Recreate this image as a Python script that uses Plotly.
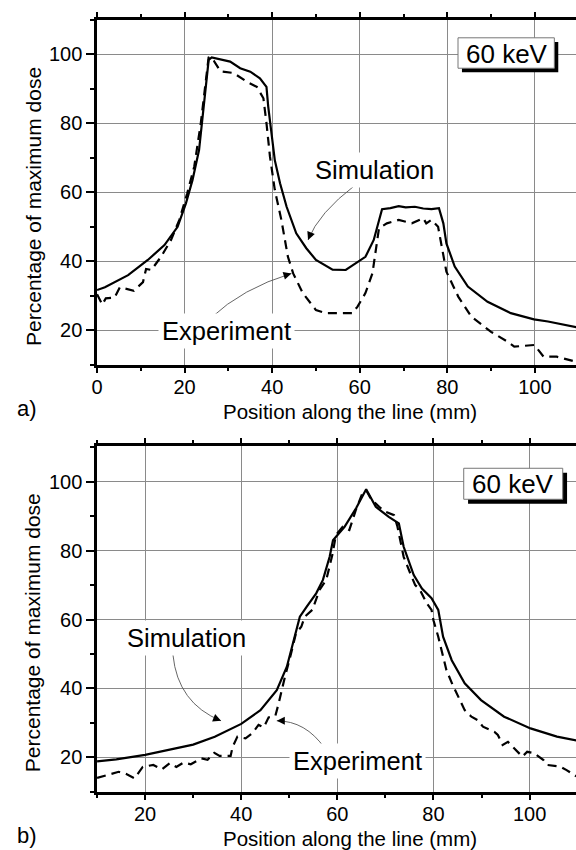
import plotly.graph_objects as go

# ---------------- data ----------------
# (a) top panel
a_sim_x = [0, 1.8, 7.1, 11.6, 15.4, 18.4, 20.3, 21.8, 23.3, 24.4, 25.5, 26.2, 27.8, 30.4, 32.7,
           35, 37.2, 38.7, 39.1, 39.9, 40.6, 41.8, 43.3, 45.5, 47.8, 50, 53.8, 56.8, 59.8, 61.3,
           63.2, 65.1, 67, 68.9, 70.5, 72.6, 74.5, 76.4, 78.1, 79.1, 79.8, 81.7, 84.7, 89.2, 94.5,
           99.8, 103, 106.6, 110]
a_sim_y = [31.7, 32.5, 36, 40.4, 44.7, 50, 56.8, 63.5, 72.2, 84.8, 98.3, 99, 98.6, 97.8, 95.9,
           94.9, 93, 90.5, 84.8, 77, 69.3, 62.6, 55.8, 48.1, 43.8, 40.4, 37.6, 37.5, 39.9, 41.3,
           46.2, 55.1, 55.4, 56, 55.6, 55.8, 55.3, 55.1, 55.4, 51, 45.2, 38.5, 32.7, 28.3, 25,
           23.2, 22.6, 21.6, 20.8]

a_exp_x = [0, 1.2, 2, 4, 5.2, 8.4, 10.5, 11.2, 12.4, 14.6, 16.9, 18.8, 20.6, 22.2, 23.7, 24.8,
           25.5, 26.7, 28.2, 31.2, 34.2, 36.5, 38, 38.7, 39.5, 40.6, 42.1, 43.6, 44.8, 47, 50,
           52.3, 58.3, 59.5, 61.3, 62.9, 64, 64.4, 66.2, 68.9, 71.9, 74.5, 75.2, 76.4, 77.9, 79.1,
           79.8, 82.5, 85.5, 90, 93.8, 95.3, 99.9, 102, 105, 109.3]
a_exp_y = [30.5, 27.5, 29.3, 29.5, 32.5, 31.5, 34, 37.8, 37.5, 41.3, 46.2, 52, 59.7, 67.4, 80,
           91.5, 99.2, 98, 95, 94.5, 92, 90.5, 87.2, 80, 70.3, 60.7, 52, 41.3, 36.5, 30.8, 25.9,
           25, 25, 26.9, 30.8, 36.5, 45.2, 49.6, 51, 52, 51, 52.5, 51, 52, 50, 41.3,
           37, 29.8, 24, 19.6, 16.7, 15.3, 15.8, 12.4, 12.4, 11]

# (b) bottom panel
b_sim_x = [10, 14, 20, 25, 30, 34.5, 40, 44, 47.4, 49.5, 50.8, 52.2, 53.6, 55.6, 57, 58.4,
           59.1, 61.5, 63.9, 66, 68, 70.7, 72.8, 73.8, 75.9, 77.6, 79.6, 81, 82, 83.8, 86.5,
           89.9, 94.7, 100.2, 105.7, 110]
b_sim_y = [18.8, 19.4, 20.7, 22.1, 23.7, 26, 29.7, 33.7, 39.5, 46.3, 53.1, 60.8, 63.7, 67.6,
           71.5, 78.2, 83, 86.9, 92.3, 97.8, 92.7, 89.8, 87.9, 81.1, 72.9, 69, 66.2, 62.8, 55,
           48.2, 41.5, 36.6, 31.8, 28.4, 26, 24.8]

b_exp_x = [10, 14.5, 16, 17.8, 19.5, 21.7, 23.5, 25.1, 26.5, 28, 29.5, 31.7, 33, 34.4, 35.5,
           37.8, 38.2, 39.2, 40.9, 42.3, 43.6, 44.7, 45.7, 47.1, 47.8, 48.4, 49.1, 50.2, 51.4,
           52.5, 53.2, 54.8, 56.3, 57.7, 59, 59.7, 61.1, 62.5, 63.9, 65.2, 66, 67, 68.7, 70,
           71.8, 72.5, 73.1, 73.8, 75, 76.2, 77.2, 78.6, 79.6, 80, 81, 81.7, 82.7, 84, 85.1,
           86.5, 87.9, 89.2, 90.3, 92.7, 93.4, 94.4, 95.5, 96.8, 98.5, 99.5, 100.9, 102.9,
           103.6, 106.4, 107.7, 109.7]
b_exp_y = [14, 15.8, 15.2, 13.9, 17.2, 17.8, 16.5, 18.3, 17.2, 18.5, 18, 19.7, 19.3, 21.3, 20.4,
           20.4, 23, 26, 25.5, 27, 29.4, 28.7, 31.6, 32, 35.7, 39.5, 43.4, 49.2, 56,
           57.9, 60.8, 62.8, 68.6, 71.5, 79, 84.5, 86.9, 86, 92, 96.6, 97.5, 95, 92.7, 91.3,
           90.3, 87, 82.6, 78.2, 74, 70, 68.6, 64.7, 62.8, 59.8, 55, 51, 45.3, 41, 37.6,
           33.7, 31.8, 30.8, 28.9, 27.4, 26.5, 23.6, 24.5, 22.6, 20.2, 21.6, 21.2, 19.2,
           17.8, 17.3, 16.3, 14.5]

energy_label = "60 keV"
x_title = "Position along the line (mm)"
y_title = "Percentage of maximum dose"

FONT = "Liberation Sans, Arial, sans-serif"
W, H = 576, 850

fig = go.Figure()
sim_line = dict(color="black", width=2.2)
exp_line = dict(color="black", width=2.2, dash="9px,6px")

fig.add_trace(go.Scatter(x=a_sim_x, y=a_sim_y, mode="lines", line=sim_line, xaxis="x", yaxis="y"))
fig.add_trace(go.Scatter(x=a_exp_x, y=a_exp_y, mode="lines", line=exp_line, xaxis="x", yaxis="y"))
fig.add_trace(go.Scatter(x=b_sim_x, y=b_sim_y, mode="lines", line=sim_line, xaxis="x2", yaxis="y2"))
fig.add_trace(go.Scatter(x=b_exp_x, y=b_exp_y, mode="lines", line=exp_line, xaxis="x2", yaxis="y2"))


def xax(rng, anchor):
    return dict(domain=[92 / W, 1], range=rng, anchor=anchor, showline=True, linecolor="black",
                linewidth=2.5, mirror="allticks", ticks="outside", ticklen=5, tickwidth=2,
                tickcolor="black", tick0=0, dtick=20, showgrid=True, gridcolor="#8a8a8a",
                gridwidth=1, zeroline=False, tickfont=dict(size=20, color="black"),
                ticklabelstandoff=-3,
                minor=dict(dtick=10, ticklen=3, tickwidth=1.5, tickcolor="black", showgrid=False,
                           ticks="outside"))


def yax(rng, dom, anchor):
    return dict(domain=dom, range=rng, anchor=anchor, showline=True, linecolor="black",
                linewidth=2.5, mirror=False, ticks="outside", ticklen=8, tickwidth=2,
                tickcolor="black", tick0=0, dtick=20, showgrid=True, gridcolor="#8a8a8a",
                gridwidth=1, zeroline=False, tickfont=dict(size=20, color="black"),
                minor=dict(dtick=10, ticklen=4, tickwidth=1.5, tickcolor="black", showgrid=False,
                           ticks="outside"))


shapes = []
annotations = []


def energy_box(xr, yr, x0, x1, y0, y1, dx, dy, tx, ty):
    shapes.append(dict(type="rect", xref=xr, yref=yr, x0=x0 + dx, x1=x1 + dx, y0=y0 - dy,
                       y1=y1 - dy, fillcolor="black", line=dict(width=0), layer="above"))
    shapes.append(dict(type="rect", xref=xr, yref=yr, x0=x0, x1=x1, y0=y0, y1=y1,
                       fillcolor="white", line=dict(color="#777", width=1), layer="above"))
    annotations.append(dict(xref=xr, yref=yr, x=tx, y=ty, text=energy_label, showarrow=False,
                            font=dict(size=26, color="black"), xanchor="center", yanchor="middle"))


energy_box("x", "y", 82.45, 104.45, 95.9, 104.7, 0.9, 1.2, 93.6, 100.1)
energy_box("x2", "y2", 86.3, 106.9, 94.9, 103.9, 0.9, 1.3, 96.5, 99.2)


def curved_arrow(xr, yr, start, ctrl, end, ax, ay):
    shapes.append(dict(type="path", xref=xr, yref=yr,
                       path=f"M {start[0]},{start[1]} Q {ctrl[0]},{ctrl[1]} {end[0]},{end[1]}",
                       line=dict(color="#555", width=0.9), layer="above"))
    annotations.append(dict(xref=xr, yref=yr, x=end[0], y=end[1], text="", showarrow=True,
                            ax=ax, ay=ay, arrowhead=2, arrowsize=1.6, arrowwidth=1,
                            arrowcolor="black"))


def label(xr, yr, x, y, text):
    annotations.append(dict(xref=xr, yref=yr, x=x, y=y, text=text, showarrow=False,
                            font=dict(size=25.5, color="black"), bgcolor="white", borderpad=3,
                            xanchor="center", yanchor="middle"))


label("x", "y", 63.3, 66.4, "Simulation")
label("x", "y", 29.6, 19.8, "Experiment")
label("x2", "y2", 28.7, 54.6, "Simulation")
label("x2", "y2", 64.1, 18.9, "Experiment")

curved_arrow("x", "y", (59.0, 62.1), (50.6, 54.0), (48.2, 46.2), 3, -7.4)
curved_arrow("x", "y", (25.9, 23.5), (33.2, 32.2), (44.4, 36.5), -7.7, 2.3)
curved_arrow("x2", "y2", (25.8, 49.7), (26.8, 35.7), (35.8, 30.6), -7.4, -3)
curved_arrow("x2", "y2", (57.4, 22.6), (53.4, 30.6), (47.4, 30.6), 8, 0)

# axis titles and panel labels (paper coordinates)
for yc in (206.7, 633):
    annotations.append(dict(xref="paper", yref="paper", x=27.5 / W, y=(H - yc) / H, text=y_title,
                            textangle=-90, showarrow=False, font=dict(size=21, color="black"),
                            xanchor="center", yanchor="middle"))
for yc in (411.5, 838):
    annotations.append(dict(xref="paper", yref="paper", x=347.2 / W, y=(H - yc) / H, text=x_title,
                            showarrow=False, font=dict(size=20.5, color="black"),
                            xanchor="center", yanchor="middle"))
for yc, t in ((408.5, "a)"), (835, "b)")):
    annotations.append(dict(xref="paper", yref="paper", x=21.7 / W, y=(H - yc) / H, text=t,
                            showarrow=False, font=dict(size=22, color="black"),
                            xanchor="center", yanchor="middle"))

fig.update_layout(
    width=W, height=H, margin=dict(l=0, r=0, t=0, b=0), showlegend=False,
    paper_bgcolor="white", plot_bgcolor="white",
    font=dict(family=FONT, color="black"),
    xaxis=xax([0, 109.4], "y"),
    yaxis=yax([10, 110], [(H - 365) / H, (H - 19.5) / H], "x"),
    xaxis2=xax([10, 109.66], "y2"),
    yaxis2=yax([9.85, 110.45], [(H - 792.3) / H, (H - 445.7) / H], "x2"),
    shapes=shapes, annotations=annotations,
)

fig.write_html("out.html")
